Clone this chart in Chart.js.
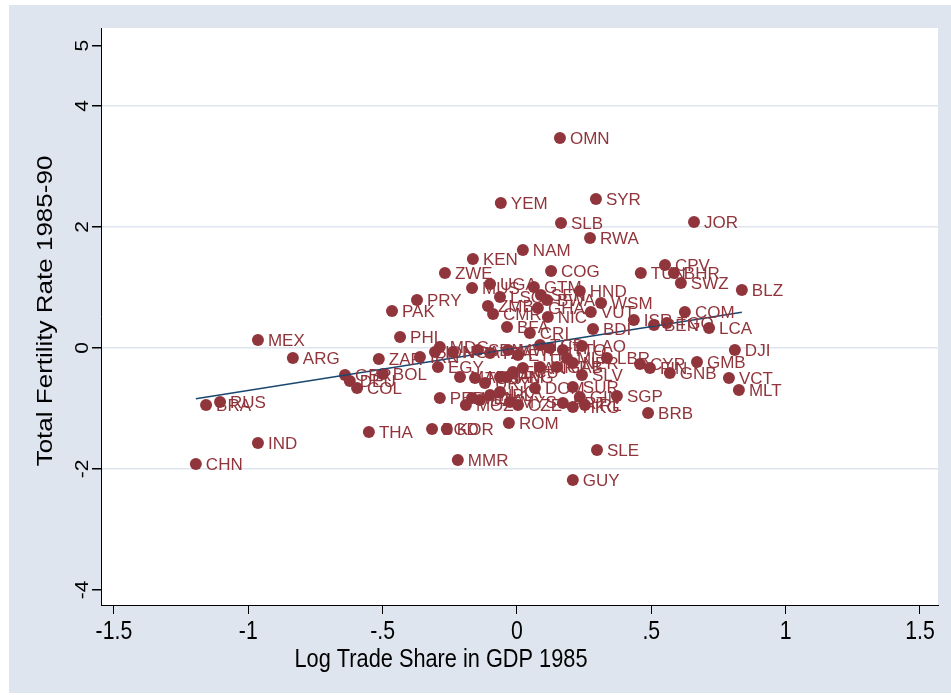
<!DOCTYPE html>
<html>
<head>
<meta charset="utf-8">
<script src="https://cdn.jsdelivr.net/npm/chart.js@4"></script>
<style>
html, body { margin: 0; padding: 0; background: #fff; }
canvas { display: block; }
</style>
</head>
<body>
<canvas id="chart" width="951" height="695"></canvas>
<script>
var countries = ['CHN','BRA','RUS','IND','MEX','ARG','GBR','DEU','COL','ZAR',
	'BOL','PAK','PHL','PRY','THA','BGD','KOR','MMR','ROM','OMN',
	'YEM','SYR','SLB','JOR','RWA','NAM','KEN','ZWE','COG','CPV',
	'TUN','BHR','SWZ','BLZ','HND','WSM','VUT','COM','ISR','BEN',
	'TGO','LCA','BDI','LAO','DJI','GMB','GNB','VCT','MLT','BRB',
	'SGP','SLE','GUY','CYP','FIN','LBR','MUS','UGA','LSO','ZMB',
	'CMR','GTM','SEN','BWA','GHA','NIC','BFA','CRI','MDG','IDN',
	'NGA','SDN','TZA','MWI','ETH','TCD','HTI','TTO','IRN','EGY',
	'MAR','TUR','URY','JAM','PNG','ECU','PAN','MRT','GAB','MLI',
	'NER','SLV','DOM','SUR','GIN','PER','MOZ','VEN','DZA','NPL',
	'LKA','MYS','CZE','PRT','HKG','IRL'];
var tradeShare = [-1.195,-1.157,-1.105,-0.964,-0.964,-0.834,-0.640,-0.622,-0.595,-0.514,
	-0.499,-0.465,-0.435,-0.372,-0.551,-0.316,-0.261,-0.220,-0.030,0.160,
	-0.060,0.294,0.164,0.659,0.272,0.022,-0.164,-0.268,0.127,0.551,
	0.461,0.584,0.610,0.837,0.234,0.313,0.275,0.625,0.435,0.510,
	0.558,0.715,0.283,0.242,0.811,0.670,0.569,0.789,0.826,0.488,
	0.372,0.298,0.208,0.458,0.495,0.335,-0.167,-0.100,-0.063,-0.108,
	-0.089,0.063,0.089,0.112,0.078,0.115,-0.037,0.048,-0.287,-0.305,
	-0.238,-0.145,-0.100,-0.033,0.004,0.086,0.123,0.171,-0.361,-0.294,
	-0.212,-0.156,-0.119,-0.063,-0.037,-0.015,0.022,0.086,0.149,0.186,
	0.208,0.242,0.067,0.208,0.234,-0.287,-0.190,-0.167,-0.138,-0.100,
	-0.063,-0.026,0.004,0.171,0.208,0.253];
var fertility = [-1.917,-0.942,-0.893,-1.570,0.132,-0.165,-0.446,-0.545,-0.661,-0.182,
	-0.430,0.612,0.182,0.793,-1.388,-1.339,-1.339,-1.851,-1.240,3.471,
	2.397,2.463,2.066,2.083,1.818,1.620,1.471,1.240,1.273,1.372,
	1.240,1.240,1.074,0.959,0.942,0.744,0.595,0.595,0.463,0.380,
	0.413,0.331,0.314,0.033,-0.033,-0.231,-0.413,-0.496,-0.694,-1.074,
	-0.793,-1.686,-2.182,-0.264,-0.331,-0.165,0.992,1.058,0.843,0.694,
	0.562,1.008,0.876,0.793,0.661,0.512,0.347,0.248,0.017,-0.066,
	-0.066,-0.033,-0.083,-0.033,-0.116,0.050,0.000,-0.033,-0.149,-0.314,
	-0.479,-0.496,-0.579,-0.479,-0.479,-0.397,-0.331,-0.314,-0.314,-0.165,
	-0.248,-0.446,-0.661,-0.645,-0.810,-0.826,-0.942,-0.826,-0.860,-0.777,
	-0.727,-0.893,-0.942,-0.909,-0.975,-0.942];
var fitX = [-1.195, 0.837];
var fitY = [-0.84, 0.59];
var xTicks = [-1.5, -1, -0.5, 0, 0.5, 1, 1.5];
var yTicks = [-4, -2, 0, 2, 4, 5];
var yGrid = [-2, 0, 2, 4];

var maroon = '#90353b';
var navy = '#1a476f';
var bgColor = '#dee5ef';
var axisFont = '"Liberation Sans", Arial, sans-serif';

function fmt(v) {
	return String(v).replace(/^(-?)0\./, '$1.');
}

var points = tradeShare.map(function(x, i) { return { x: x, y: fertility[i] }; });
var fitLine = fitX.map(function(x, i) { return { x: x, y: fitY[i] }; });

var backdrop = {
	id: 'backdrop',
	beforeDraw: function(chart) {
		var c = chart.ctx, a = chart.chartArea;
		c.save();
		c.fillStyle = '#fff';
		c.fillRect(0, 0, chart.width, chart.height);
		c.fillStyle = bgColor;
		c.fillRect(9, 5, chart.width - 9, chart.height - 7);
		c.fillStyle = '#fff';
		c.fillRect(a.left, a.top, a.right - a.left, a.bottom - a.top);
		c.restore();
	}
};

var pointLabels = {
	id: 'pointLabels',
	afterDatasetsDraw: function(chart) {
		var c = chart.ctx;
		var meta = chart.getDatasetMeta(1);
		c.save();
		c.font = '17px ' + axisFont;
		c.fillStyle = maroon;
		c.textBaseline = 'middle';
		meta.data.forEach(function(pt, i) {
			c.fillText(countries[i], pt.x + 10, pt.y + 1);
		});
		c.restore();
	}
};

// narrow-looking axis text: squeeze horizontally on screen
function squeezed(c, text, x, y, rot, sx) {
	c.save();
	c.translate(x, y);
	c.scale(sx, 1);
	c.rotate(rot);
	c.fillText(text, 0, 0);
	c.restore();
}

var axisText = {
	id: 'axisText',
	afterDraw: function(chart) {
		var c = chart.ctx, xs = chart.scales.x, ys = chart.scales.y;
		c.save();
		c.fillStyle = '#000';
		c.textAlign = 'center';
		c.textBaseline = 'middle';
		c.font = '21px ' + axisFont;
		yTicks.forEach(function(v) {
			squeezed(c, fmt(v), 83, ys.getPixelForValue(v), -Math.PI / 2, 0.9);
		});
		c.font = '25px ' + axisFont;
		xTicks.forEach(function(v) {
			squeezed(c, fmt(v), xs.getPixelForValue(v), 632, 0, 0.85);
		});
		squeezed(c, 'Log Trade Share in GDP 1985', 441, 660, 0, 0.87);
		c.font = '26px ' + axisFont;
		squeezed(c, 'Total Fertility Rate 1985-90', 46, 311, -Math.PI / 2, 0.85);
		c.restore();
	}
};

new Chart(document.getElementById('chart'), {
	type: 'scatter',
	data: {
		datasets: [{
			label: 'Fitted values',
			data: fitLine,
			showLine: true,
			borderColor: navy,
			borderWidth: 1.5,
			pointRadius: 0,
			fill: false
		}, {
			label: 'Total Fertility Rate 1985-90',
			data: points,
			backgroundColor: maroon,
			borderWidth: 0,
			pointRadius: 6
		}]
	},
	options: {
		responsive: false,
		animation: false,
		layout: { padding: { top: 28, right: 13, left: 0, bottom: 0 } },
		plugins: {
			legend: { display: false },
			tooltip: { enabled: false }
		},
		scales: {
			x: {
				type: 'linear',
				position: 'bottom',
				min: -1.548,
				max: 1.567,
				afterBuildTicks: function(s) { s.ticks = xTicks.map(function(v) { return { value: v }; }); },
				afterFit: function(s) { s.height = 90; },
				border: { display: true, color: '#000', width: 1 },
				grid: { drawOnChartArea: false, drawTicks: true, tickLength: 9, tickColor: '#000', color: '#000' },
				ticks: { display: false }
			},
			y: {
				type: 'linear',
				min: -4.25,
				max: 5.29,
				afterBuildTicks: function(s) { s.ticks = yTicks.map(function(v) { return { value: v }; }); },
				afterFit: function(s) { s.width = 101; },
				border: { display: true, color: '#000', width: 1 },
				grid: {
					color: function(ctx) { return ctx.tick && yGrid.indexOf(ctx.tick.value) >= 0 ? bgColor : 'rgba(0,0,0,0)'; },
					lineWidth: 1.5,
					tickLength: 9,
					tickColor: '#000'
				},
				ticks: { display: false }
			}
		}
	},
	plugins: [backdrop, pointLabels, axisText]
});
</script>
</body>
</html>
